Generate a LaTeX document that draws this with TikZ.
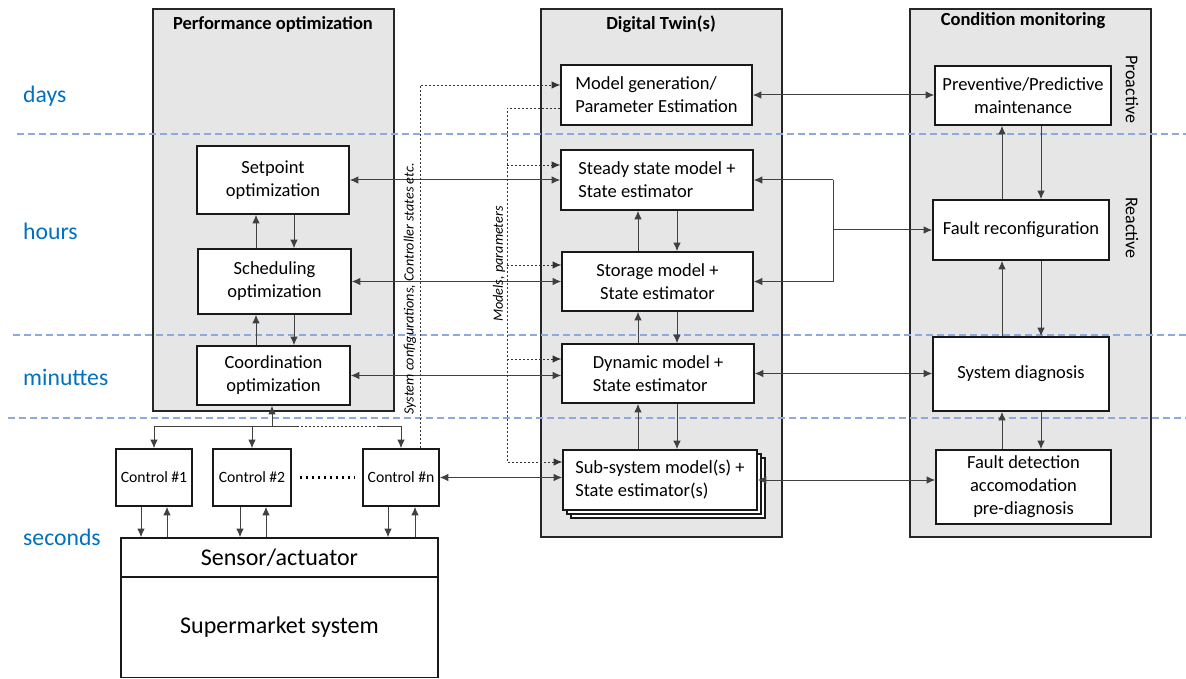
\documentclass[tikz,border=0pt]{standalone}
\usepackage{fontspec}
\setmainfont{Carlito}
\usetikzlibrary{arrows.meta}
\definecolor{panelgrey}{HTML}{E6E6E6}
\definecolor{scaleblue}{HTML}{8EA9DB}
\definecolor{labelblue}{HTML}{0070C0}
\begin{document}
\begin{tikzpicture}[x=1pt,y=-1pt,
  panel/.style={draw=black!85, line width=1.4pt, fill=panelgrey},
  paneltitle/.style={font=\fontsize{18.5}{22}\selectfont\bfseries, inner sep=0pt},
  box/.style={draw=black!90, line width=1.6pt, fill=white, inner sep=0pt, align=center,
    font=\fontsize{18.5}{23}\selectfont},
  ctrlbox/.style={box, minimum width=76pt, minimum height=57pt, font=\fontsize{15.7}{19}\selectfont},
  wire/.style={draw=black!75, line width=1pt},
  link/.style={wire, -{Latex[length=8.5pt,width=7.5pt]}},
  duplex/.style={wire, {Latex[length=8.5pt,width=7.5pt]}-{Latex[length=8.5pt,width=7.5pt]}},
  infoline/.style={draw=black!80, line width=0.9pt, dash pattern=on 2pt off 2pt},
  infolink/.style={infoline, -{Latex[length=8.5pt,width=7.5pt]}},
  timeline/.style={draw=scaleblue, line width=1.1pt, dash pattern=on 7pt off 4pt},
  tslabel/.style={anchor=base west, text=labelblue, font=\fontsize{23.7}{28}\selectfont, inner sep=0pt},
  sidenote/.style={font=\itshape\fontsize{14.2}{16}\selectfont, inner sep=0pt},
  modenote/.style={font=\fontsize{18}{22}\selectfont, inner sep=0pt, rotate=-90},
  dotrow/.style={draw=black, line width=2.6pt, dash pattern=on 2.4pt off 3.6pt},
  ]
\useasboundingbox (0,0) rectangle (1186,679);

% ---- column panels ----
\draw[panel] (153,9) rectangle (394,411);
\draw[panel] (541,9) rectangle (782,537);
\draw[panel] (910,9) rectangle (1151,537);
\node[paneltitle] (tpo) at (273,24) {Performance optimization};
\node[paneltitle] (tdt) at (661,24) {Digital Twin(s)};
\node[paneltitle] (tcm) at (1023,21) {Condition monitoring};

% ---- time scale ----
\draw[timeline] (17,134) -- (1186,134);
\draw[timeline] (13,335) -- (1186,335);
\draw[timeline] (8,418) -- (1186,418);
\node[tslabel] (lday) at (23,103) {days};
\node[tslabel] (lhour) at (23,240) {hours};
\node[tslabel] (lmin) at (23,385) {minuttes};
\node[tslabel] (lsec) at (23,545) {seconds};

\node[modenote] (proact) at (1132,89) {Proactive};
\node[modenote] (react) at (1132,228) {Reactive};

% ---- performance optimization ----
\node[box, minimum width=152pt, minimum height=68pt] (setp) at (273,180) {Setpoint\\optimization};
\node[box, minimum width=153pt, minimum height=65pt] (sched) at (274.5,281.5) {Scheduling\\optimization};
\node[box, minimum width=153pt, minimum height=59pt] (coord) at (273.5,375.5) {Coordination\\optimization};

% ---- digital twin ----
\node[box, minimum width=191pt, minimum height=60pt, align=left] (mgen) at (656.5,95) {Model generation/\\Parameter Estimation};
\node[box, minimum width=192pt, minimum height=60pt, align=left] (steady) at (657,180) {Steady state model +\\State estimator};
\node[box, minimum width=191pt, minimum height=59pt] (storage) at (657.5,281.5) {Storage model +\\State estimator};
\node[box, minimum width=192pt, minimum height=59pt, align=left] (dyn) at (658,373.5) {Dynamic model +\\State estimator};
\node[box, minimum width=194pt, minimum height=60pt] (sub3) at (668,488) {};
\node[box, minimum width=194pt, minimum height=60pt] (sub2) at (664,484) {};
\node[box, minimum width=194pt, minimum height=60pt, align=left] (sub) at (660,480) {Sub-system model(s) +\\State estimator(s)};

% ---- condition monitoring ----
\node[box, minimum width=176pt, minimum height=59pt] (prev) at (1023,95.5) {Preventive/Predictive\\maintenance};
\node[box, minimum width=176pt, minimum height=60pt] (frec) at (1021,230) {\raisebox{-2pt}{Fault reconfiguration}};
\node[box, minimum width=176pt, minimum height=74pt] (sdiag) at (1021,374) {\raisebox{4pt}{System diagnosis}};
\node[box, minimum width=175pt, minimum height=74pt] (fdet) at (1023.5,487) {Fault detection\\accomodation\\pre-diagnosis};

% ---- local control and plant ----
\node[ctrlbox] (c1) at (154,477.5) {Control \#1};
\node[ctrlbox, minimum width=78pt] (c2) at (252,477.5) {Control \#2};
\node[ctrlbox] (cn) at (401,477.5) {Control \#n};
\node[box, minimum width=317pt, minimum height=39pt, font=\fontsize{24}{28}\selectfont] (sensor) at (279.5,557.5) {Sensor/actuator};
\node[box, minimum width=317pt, minimum height=100pt, font=\fontsize{24}{28}\selectfont] (plant) at (279.5,627.5) {Supermarket system};
\draw[dotrow, shorten <=8pt, shorten >=8pt] (c2.east) -- (cn.west);

% ---- vertical arrow columns ----
\coordinate (poUp) at (256,0);
\coordinate (poDn) at (294,0);
\coordinate (dtUp) at (638,0);
\coordinate (dtDn) at (677,0);
\coordinate (cmUp) at (1002,0);
\coordinate (cmDn) at (1041,0);

\draw[link] (poUp |- sched.north) -- (poUp |- setp.south);
\draw[link] (poDn |- setp.south) -- (poDn |- sched.north);
\draw[link] (poUp |- coord.north) -- (poUp |- sched.south);
\draw[link] (poDn |- sched.south) -- (poDn |- coord.north);

\draw[link] (dtUp |- storage.north) -- (dtUp |- steady.south);
\draw[link] (dtDn |- steady.south) -- (dtDn |- storage.north);
\draw[link] (dtUp |- dyn.north) -- (dtUp |- storage.south);
\draw[link] (dtDn |- storage.south) -- (dtDn |- dyn.north);
\draw[link] (dtUp |- sub.north) -- (dtUp |- dyn.south);
\draw[link] (dtDn |- dyn.south) -- (dtDn |- sub.north);

\draw[link] (cmUp |- frec.north) -- (cmUp |- prev.south);
\draw[link] (cmDn |- prev.south) -- (cmDn |- frec.north);
\draw[link] (cmUp |- sdiag.north) -- (cmUp |- frec.south);
\draw[link] (cmDn |- frec.south) -- (cmDn |- sdiag.north);
\draw[link] (cmUp |- fdet.north) -- (cmUp |- sdiag.south);
\draw[link] (cmDn |- sdiag.south) -- (cmDn |- fdet.north);

% ---- coordination bus to the controllers ----
\coordinate (bus) at (272,426);
\coordinate (busA) at (297,426);
\coordinate (busB) at (377,426);
\draw[link] (bus) -- (bus |- coord.south);
\draw[wire] (bus -| c1.north) -- (busA);
\draw[infoline] (busA) -- (busB);
\draw[wire] (busB) -- (bus -| cn.north);
\draw[link] (bus -| c1.north) -- (c1.north);
\draw[link] (bus -| c2.north) -- (c2.north);
\draw[link] (bus -| cn.north) -- (cn.north);

\coordinate (c1d) at (141,0);
\coordinate (c1u) at (167,0);
\coordinate (c2d) at (240,0);
\coordinate (c2u) at (266,0);
\coordinate (cnd) at (388,0);
\coordinate (cnu) at (415,0);
\draw[link] (c1d |- c1.south) -- (c1d |- sensor.north);
\draw[link] (c1u |- sensor.north) -- (c1u |- c1.south);
\draw[link] (c2d |- c2.south) -- (c2d |- sensor.north);
\draw[link] (c2u |- sensor.north) -- (c2u |- c2.south);
\draw[link] (cnd |- cn.south) -- (cnd |- sensor.north);
\draw[link] (cnu |- sensor.north) -- (cnu |- cn.south);

% ---- optimization <-> digital twin ----
\draw[duplex] (setp.east) -- (setp.east -| steady.west);
\draw[duplex] (sched.east) -- (sched.east -| storage.west);
\draw[duplex] (coord.east) -- (coord.east -| dyn.west);
\draw[duplex] (cn.east) -- (cn.east -| sub.west);

% ---- digital twin <-> condition monitoring ----
\draw[duplex] (mgen.east) -- (mgen.east -| prev.west);
\coordinate (br) at (833,230);
\draw[link] (br |- steady.east) -- (steady.east);
\draw[link] (br |- storage.east) -- (storage.east);
\draw[wire] (br |- steady.east) -- (br |- storage.east);
\draw[link] (br) -- (br -| frec.west);
\draw[duplex] (dyn.east) -- (dyn.east -| sdiag.west);
\draw[duplex] (sub.east) -- (sub.east -| fdet.west);

% ---- configuration and model information flows ----
\coordinate (scTurn) at (420,85);
\draw[infolink] (scTurn |- cn.north) -- (scTurn) -- (scTurn -| mgen.west);
\node[sidenote, rotate=90] (scnote) at (410,289) {System configurations, Controller states etc.};

\coordinate (mpTop) at (507,108);
\coordinate (mpBot) at (507,462);
\coordinate (mp1) at (507,165);
\coordinate (mp2) at (507,265);
\coordinate (mp3) at (507,359);
\draw[infolink] (mpTop -| mgen.west) -- (mpTop) -- (mpBot) -- (mpBot -| sub.west);
\draw[infolink] (mp1) -- (mp1 -| steady.west);
\draw[infolink] (mp2) -- (mp2 -| storage.west);
\draw[infolink] (mp3) -- (mp3 -| dyn.west);
\node[sidenote, rotate=90] (mpnote) at (499,264) {Models, parameters};
\end{tikzpicture}
\end{document}
